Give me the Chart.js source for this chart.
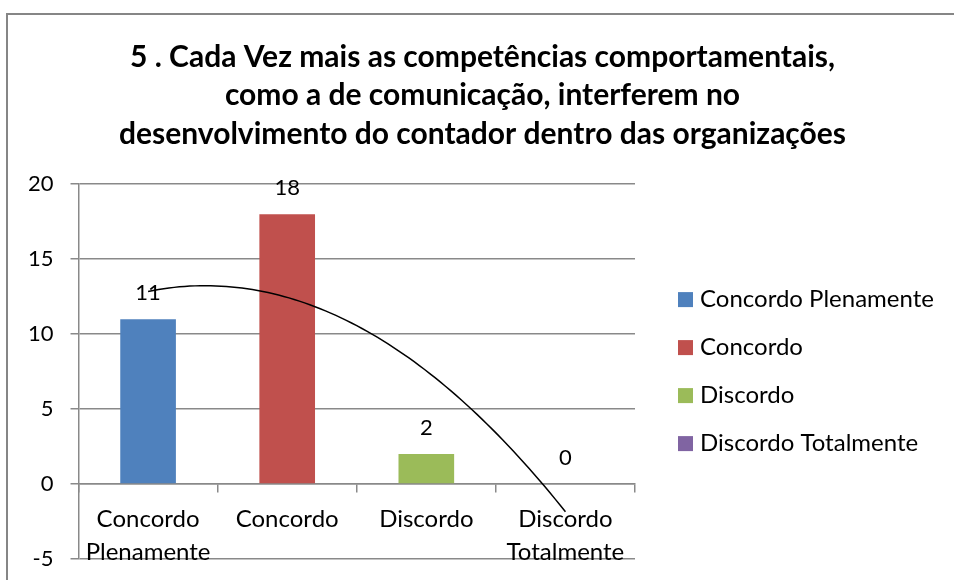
<!DOCTYPE html>
<html>
<head>
<meta charset="utf-8">
<script src="https://cdn.jsdelivr.net/npm/chart.js@4.4.1/dist/chart.umd.min.js"></script>
<style>
  html, body { margin: 0; padding: 0; background: #fff; }
  #wrap { width: 954px; height: 580px; }
</style>
</head>
<body>
<div id="wrap"><canvas id="chart" width="954" height="580"></canvas></div>
<script>
const titleLines = [
  '5 . Cada Vez mais as competências comportamentais,',
  'como a de comunicação, interferem no',
  'desenvolvimento do contador dentro das organizações'
];
const categories = ['Concordo Plenamente', 'Concordo', 'Discordo', 'Discordo Totalmente'];
const responses = [11, 18, 2, 0];
const barColors = ['#4F81BD', '#C0504D', '#9BBB59', '#8064A2'];
const yTicks = [-5, 0, 5, 10, 15, 20];

const gridColor = '#898989';
Chart.defaults.font.family = 'Lato';
Chart.defaults.color = '#000';

// polynomial (order 2) trendline, least squares on x = 1..n like Excel does
function quadFit(ys) {
  const s = [0, 0, 0, 0, 0], t = [0, 0, 0];
  ys.forEach((y, i) => {
    const x = i + 1;
    for (let k = 0; k < 5; k++) s[k] += Math.pow(x, k);
    for (let k = 0; k < 3; k++) t[k] += y * Math.pow(x, k);
  });
  const m = [
    [s[0], s[1], s[2], t[0]],
    [s[1], s[2], s[3], t[1]],
    [s[2], s[3], s[4], t[2]]
  ];
  for (let c = 0; c < 3; c++) {
    for (let r = c + 1; r < 3; r++) {
      const f = m[r][c] / m[c][c];
      for (let k = c; k < 4; k++) m[r][k] -= f * m[c][k];
    }
  }
  const coef = [0, 0, 0];
  for (let r = 2; r >= 0; r--) {
    let v = m[r][3];
    for (let k = r + 1; k < 3; k++) v -= m[r][k] * coef[k];
    coef[r] = v / m[r][r];
  }
  return coef;
}

const frame = {
  id: 'frame',
  beforeDraw(chart) {
    const ctx = chart.ctx;
    ctx.save();
    ctx.fillStyle = '#fff';
    ctx.fillRect(0, 0, chart.width, chart.height);
    ctx.strokeStyle = '#868686';
    ctx.lineWidth = 2;
    ctx.beginPath();
    ctx.moveTo(7, chart.height);
    ctx.lineTo(7, 14);
    ctx.lineTo(chart.width, 14);
    ctx.stroke();
    ctx.restore();
  }
};

const trendline = {
  id: 'trendline',
  afterDatasetsDraw(chart) {
    const [a, b, c] = quadFit(responses);
    const xs = chart.scales.x, ys = chart.scales.y;
    const ctx = chart.ctx;
    const steps = 80, last = responses.length - 1;
    ctx.save();
    ctx.strokeStyle = '#000';
    ctx.lineWidth = 1.5;
    ctx.beginPath();
    for (let i = 0; i <= steps; i++) {
      const idx = last * i / steps;
      const x = idx + 1;
      const px = xs.getPixelForValue(idx);
      const py = ys.getPixelForValue(a + b * x + c * x * x);
      if (i === 0) ctx.moveTo(px, py); else ctx.lineTo(px, py);
    }
    ctx.stroke();
    ctx.restore();
  }
};

const valueLabels = {
  id: 'valueLabels',
  afterDatasetsDraw(chart) {
    const ctx = chart.ctx;
    const meta = chart.getDatasetMeta(0);
    ctx.save();
    ctx.font = '22px Lato';
    ctx.fillStyle = '#000';
    ctx.textAlign = 'center';
    ctx.textBaseline = 'middle';
    meta.data.forEach((bar, i) => ctx.fillText(responses[i], bar.x, bar.y - 26));
    ctx.restore();
  }
};

// legend per category (vary colours by point), drawn in the space kept free on the right
const sideLegend = {
  id: 'sideLegend',
  afterDraw(chart) {
    const ctx = chart.ctx, area = chart.chartArea;
    const rowGap = 48, box = 15;
    const x0 = area.right + 43;
    const y0 = (area.top + area.bottom) / 2 - rowGap * (categories.length - 1) / 2;
    ctx.save();
    ctx.font = '24px Lato';
    ctx.textAlign = 'left';
    ctx.textBaseline = 'middle';
    categories.forEach((c, i) => {
      const y = y0 + i * rowGap;
      ctx.fillStyle = barColors[i];
      ctx.fillRect(x0, y - box / 2, box, box);
      ctx.fillStyle = '#000';
      ctx.fillText(c, x0 + box + 7, y);
    });
    ctx.restore();
  }
};

new Chart(document.getElementById('chart'), {
  type: 'bar',
  data: {
    labels: categories,
    datasets: [{
      label: 'Respostas',
      data: responses,
      backgroundColor: barColors,
      borderWidth: 0,
      categoryPercentage: 1,
      barPercentage: 0.4
    }]
  },
  options: {
    responsive: false,
    animation: false,
    events: [],
    layout: { padding: { left: 11, right: 0, top: 0, bottom: 21 } },
    scales: {
      x: {
        position: { y: 0 },
        grid: { drawOnChartArea: false, drawTicks: true, tickLength: 8, color: gridColor, lineWidth: 1.5, offset: true },
        border: { display: true, color: gridColor, width: 1.5 },
        ticks: {
          font: { size: 24, lineHeight: 1.375 },
          padding: 11,
          maxRotation: 0,
          autoSkip: false,
          callback: (v, i) => categories[i].split(' ')
        }
      },
      y: {
        min: yTicks[0],
        max: yTicks[yTicks.length - 1],
        ticks: { stepSize: 5, padding: 17, font: { size: 22, lineHeight: 0.2 } },
        grid: { color: gridColor, lineWidth: 1.5, tickLength: 8 },
        border: { color: gridColor, width: 1.5 }
      },
      // empty axis that only keeps room for the legend
      legendSpace: {
        type: 'linear',
        axis: 'y',
        position: 'right',
        grid: { display: false },
        border: { display: false },
        ticks: { display: false },
        afterFit: s => { s.width = 319; }
      }
    },
    plugins: {
      title: {
        display: true,
        text: titleLines,
        color: '#000',
        font: { size: 30, weight: 'bold', lineHeight: 1.28 },
        padding: { top: 38, bottom: 31 }
      },
      legend: { display: false },
      tooltip: { enabled: false }
    }
  },
  plugins: [frame, trendline, valueLabels, sideLegend]
});
</script>
</body>
</html>
